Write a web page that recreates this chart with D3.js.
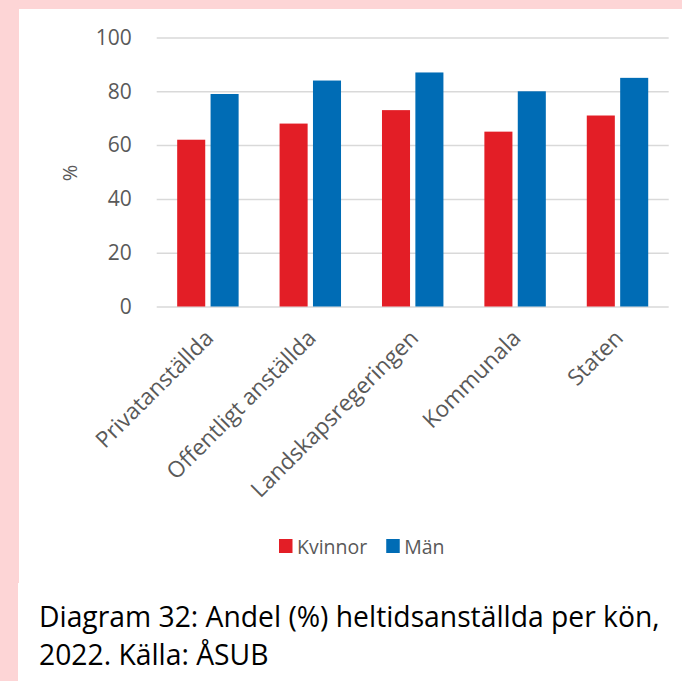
<!DOCTYPE html>
<html lang="sv">
<head>
<meta charset="utf-8">
<title>Andel heltidsanställda per kön, 2022</title>
<script src="https://cdn.jsdelivr.net/npm/d3@7"></script>
<style>
  html, body { margin: 0; padding: 0; background: #fdd5d6; }
  svg { display: block; }
  text { font-family: "Open Sans", "Noto Sans", sans-serif; }
</style>
</head>
<body>
<svg id="chart" width="682" height="681"></svg>
<script>
// Sector categories
const categories = ["Privatanställda", "Offentligt anställda", "Landskapsregeringen", "Kommunala", "Staten"];
// Series names
const seriesNames = ["Kvinnor", "Män"];
// Share (%) employed full time, per sex
const kvinnor = [62, 68, 73, 65, 71];
const man = [79, 84, 87, 80, 85];
// Y-axis ticks
const yTicks = [0, 20, 40, 60, 80, 100];
// Caption lines
const captionLines = ["Diagram 32: Andel (%) heltidsanställda per kön,", "2022. Källa: ÅSUB"];

const seriesValues = { "Kvinnor": kvinnor, "Män": man };
const colors = { "Kvinnor": "#e31e26", "Män": "#006cb5" };
const textGray = "#595959";
const gridGray = "#d9d9d9";

const svg = d3.select("#chart");

// White panels on the pink page
svg.append("rect").attr("x", 19).attr("y", 9).attr("width", 663).attr("height", 574).attr("fill", "#fff");
svg.append("rect").attr("x", 18).attr("y", 583).attr("width", 664).attr("height", 98).attr("fill", "#fff");

const plot = { left: 156.7, right: 668.7, top: 37.5, bottom: 306.5 };

const x0 = d3.scaleBand()
  .domain(categories)
  .range([plot.left, plot.right])
  .paddingInner(0.4)
  .paddingOuter(0.2);

const x1 = d3.scaleBand()
  .domain(seriesNames)
  .range([0, x0.bandwidth()])
  .paddingInner(0.16);

const y = d3.scaleLinear().domain([0, 100]).range([plot.bottom, plot.top]);

// Gridlines and tick labels
const yAxis = d3.axisLeft(y)
  .tickValues(yTicks)
  .tickSize(-(plot.right - plot.left))
  .tickPadding(25)
  .tickFormat(d3.format("d"));

const yg = svg.append("g")
  .attr("transform", `translate(${plot.left},0)`)
  .call(yAxis);
yg.select(".domain").remove();
yg.selectAll(".tick line").attr("stroke", gridGray).attr("stroke-width", 1.5);
yg.selectAll(".tick text")
  .attr("fill", textGray)
  .attr("font-size", 21)
  .attr("font-family", "'Open Sans', sans-serif");

// Y-axis title
svg.append("text")
  .attr("transform", "translate(69,173) rotate(-90)")
  .attr("text-anchor", "middle")
  .attr("dominant-baseline", "central")
  .attr("fill", textGray)
  .attr("font-size", 20)
  .text("%");

// Bars
const groups = svg.append("g").selectAll("g")
  .data(categories)
  .join("g")
  .attr("transform", d => `translate(${x0(d)},0)`);

groups.selectAll("rect")
  .data((c, i) => seriesNames.map(s => ({ s, v: seriesValues[s][i] })))
  .join("rect")
  .attr("x", d => x1(d.s))
  .attr("width", x1.bandwidth())
  .attr("y", d => y(d.v))
  .attr("height", d => y(0) - y(d.v))
  .attr("fill", d => colors[d.s]);

// Category labels, rotated
const xAxis = d3.axisBottom(x0).tickSize(0).tickPadding(0);
const xg = svg.append("g")
  .attr("transform", `translate(0,${plot.bottom})`)
  .call(xAxis);
xg.select(".domain").remove();
xg.selectAll(".tick text")
  .attr("fill", textGray)
  .attr("font-size", 22.5)
  .attr("font-family", "'Open Sans', sans-serif")
  .attr("text-anchor", "end")
  .attr("dy", null)
  .attr("y", 0)
  .attr("transform", "translate(7,33) rotate(-45)");

// Legend
const legend = svg.append("g").attr("transform", "translate(279,546)");
let lx = 0;
seriesNames.forEach(s => {
  legend.append("rect")
    .attr("x", lx).attr("y", -7).attr("width", 13.5).attr("height", 14)
    .attr("fill", colors[s]);
  const t = legend.append("text")
    .attr("x", lx + 18).attr("y", 0)
    .attr("dominant-baseline", "central")
    .attr("fill", textGray)
    .attr("font-size", 19.5)
    .text(s);
  lx += 18 + t.node().getComputedTextLength() + 19;
});

// Caption under the chart
const cap = svg.append("g");
const capFont = 24;
const l1 = cap.append("text")
  .attr("x", 39).attr("y", 627)
  .attr("fill", "#000")
  .attr("font-size", capFont)
  .text(captionLines[0]);
const w = l1.node().getComputedTextLength();
const fitted = capFont * 621 / w;
l1.attr("font-size", fitted);
cap.append("text")
  .attr("x", 39).attr("y", 665)
  .attr("fill", "#000")
  .attr("font-size", fitted)
  .text(captionLines[1]);
</script>
</body>
</html>
